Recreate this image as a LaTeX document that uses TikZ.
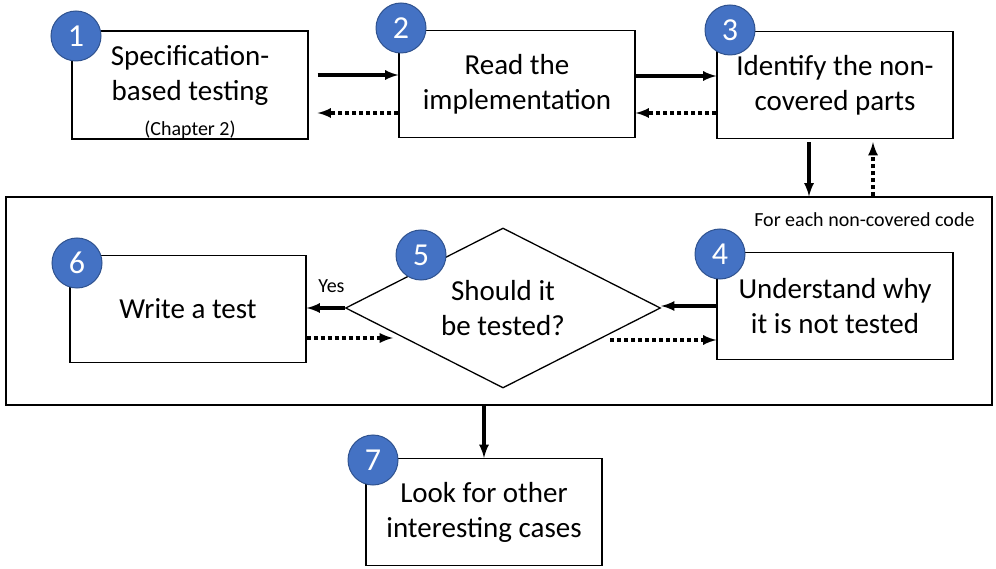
\documentclass[tikz,border=0pt]{standalone}
\usepackage{fontspec}
\setmainfont{Carlito}
\usetikzlibrary{shapes.geometric, arrows}

\definecolor{stepblue}{HTML}{4472C4}
\definecolor{stepedge}{HTML}{2F528F}

\tikzset{
  steptext/.style={align=center, font=\fontsize{29}{35}\selectfont},
  stepbox/.style={steptext, draw, line width=1.3pt, fill=white, minimum width=236pt, minimum height=107pt},
  badge/.style={circle, draw=stepedge, line width=1pt, fill=stepblue, text=white, minimum size=50pt, inner sep=0pt, font=\fontsize{32}{32}\selectfont},
  flow/.style={-latex, line width=3.5pt},
  back/.style={-latex, line width=3.5pt, dash pattern=on 4pt off 3pt},
  note/.style={font=\fontsize{20}{24}\selectfont}
}

\begin{document}
\begin{tikzpicture}[x=1pt, y=-1pt]
\useasboundingbox (0,0) rectangle (996,569);

%draw the loop frame
\node[draw, line width=1.3pt, minimum width=986pt, minimum height=208pt] (loop) at (499,301) {};
\node[note, anchor=east] (each) at (978,220) {For each non-covered code};

%draw the steps
\node[stepbox, inner ysep=0pt] (spec) at (190,85) {\rule{0pt}{35pt}Specification-\\based testing\\{\fontsize{20}{24}\selectfont (Chapter 2)}};
\node[stepbox] (read) at (517,84) {Read the\\implementation};
\node[stepbox] (ident) at (835,85) {Identify the non-\\covered parts};
\node[stepbox] (why) at (835,306) {Understand why\\it is not tested};
\node[diamond, steptext, draw, line width=1.3pt, aspect=2, inner sep=0pt, minimum width=315pt, minimum height=160pt] (should) at (503,308) {Should it\\be tested?};
\node[stepbox] (write) at (188,309) {Write a test};
\node[stepbox] (look) at (484,512) {Look for other\\interesting cases};

%draw the numbers
\node[badge] (n1) at (76,36) {1};
\node[badge] (n2) at (401,28) {2};
\node[badge] (n3) at (730,30) {3};
\node[badge] (n4) at (720,254) {4};
\node[badge] (n5) at (421,255) {5};
\node[badge] (n6) at (77,263) {6};
\node[badge] (n7) at (373,460) {7};

\coordinate (retry) at (610,340);
\coordinate (retest) at (393,338);

%forward and back arrows
\draw[flow, shorten <=9pt] ([yshift=10pt]spec.east) -- ([yshift=10pt]spec.east -| read.west);
\draw[back, shorten >=9pt] ([yshift=-29pt]read.west) -- ([yshift=-29pt]read.west -| spec.east);
\draw[flow] ([yshift=8pt]read.east) -- ([yshift=8pt]read.east -| ident.west);
\draw[back] ([yshift=-28pt]ident.west) -- ([yshift=-28pt]ident.west -| read.east);

\draw[flow, shorten <=3pt] ([xshift=-26pt]ident.south) -- ([xshift=-26pt]ident.south |- loop.north);
\draw[back, shorten >=3pt] ([xshift=38pt]ident.south |- loop.north) -- ([xshift=38pt]ident.south);

\draw[flow] (why.west) -- (why.west -| should.east);
\draw[back] (retry) -- (retry -| why.west);
\draw[flow] (should.west) -- node[note, pos=0.35, above, yshift=10pt] (yes) {Yes} (should.west -| write.east);
\draw[back] (retest -| write.east) -- (retest);

\draw[flow] (look.north |- loop.south) -- (look.north);

\end{tikzpicture}
\end{document}
